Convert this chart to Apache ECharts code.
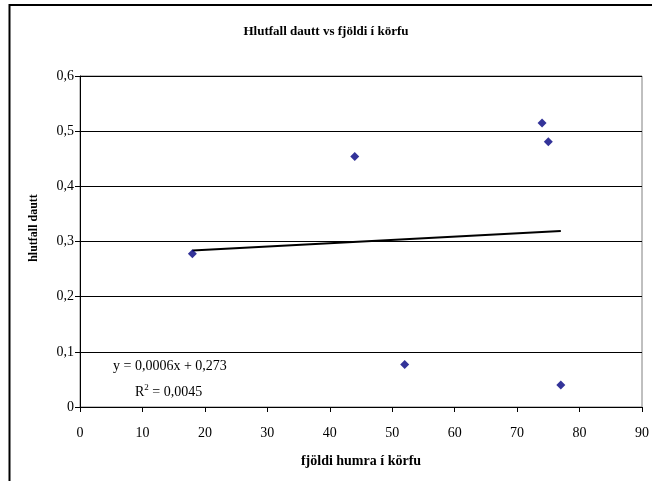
<!DOCTYPE html>
<html>
<head>
<meta charset="utf-8">
<script src="https://cdn.jsdelivr.net/npm/echarts@6/dist/echarts.min.js"></script>
<style>
html,body{margin:0;padding:0;background:#fff;}
#chart{width:652px;height:481px;}
</style>
</head>
<body>
<div id="chart"></div>
<script>
// Data
const fjoldi = [18, 44, 52, 74, 75, 77];
const hlutfall = [0.278, 0.454, 0.077, 0.515, 0.481, 0.040];
const trendSlope = 0.0006;
const trendIntercept = 0.273;
const trendRange = [18, 77];
const eqText = 'y = 0,0006x + 0,273';
const r2Label = 'R';
const r2Value = ' = 0,0045';
const titleText = 'Hlutfall dautt vs fjöldi í körfu';
const xName = 'fjöldi humra í körfu';
const yName = 'hlutfall dautt';

const points = fjoldi.map((x, i) => [x, hlutfall[i]]);
const trend = trendRange.map(x => [x, trendSlope * x + trendIntercept]);
const fmt = v => String(Math.round(v * 10) / 10).replace('.', ',');
const serif = '"Liberation Serif", "Times New Roman", serif';

const chart = echarts.init(document.getElementById('chart'), null, {renderer: 'canvas'});
chart.setOption({
  animation: false,
  backgroundColor: '#fff',
  title: {
    text: titleText,
    left: 'center',
    top: 20,
    textStyle: {fontFamily: serif, fontSize: 13, fontWeight: 'bold', color: '#000'}
  },
  grid: {left: 80, right: 9, top: 76, bottom: 74, show: true, borderColor: '#808080', borderWidth: 1},
  xAxis: {
    type: 'value', min: 0, max: 90, interval: 10,
    name: xName, nameLocation: 'middle', nameGap: 47,
    nameTextStyle: {fontFamily: serif, fontSize: 14, fontWeight: 'bold', color: '#000'},
    axisLine: {lineStyle: {color: '#000', width: 1}},
    axisTick: {show: true, inside: false, length: 5, lineStyle: {color: '#000'}},
    axisLabel: {fontFamily: serif, fontSize: 14, color: '#000', margin: 19},
    splitLine: {show: false}
  },
  yAxis: {
    type: 'value', min: 0, max: 0.6, interval: 0.1,
    axisLine: {show: true, lineStyle: {color: '#000', width: 1}},
    axisTick: {show: true, inside: false, length: 5, lineStyle: {color: '#000'}},
    axisLabel: {fontFamily: serif, fontSize: 14, color: '#000', margin: 6, formatter: fmt},
    splitLine: {show: true, lineStyle: {color: '#000', width: 1}}
  },
  series: [
    {
      type: 'line', data: trend, symbol: 'none', silent: true,
      lineStyle: {color: '#000', width: 2}, z: 2
    },
    {
      type: 'scatter', data: points, symbol: 'diamond', symbolSize: 9,
      itemStyle: {color: '#000080'}, z: 3
    }
  ],
  graphic: [
    {type: 'rect', shape: {x: 9.5, y: 5, width: 660, height: 500},
     style: {fill: 'none', stroke: '#000', lineWidth: 2}, silent: true},
    {type: 'text', x: 34, y: 228, rotation: Math.PI / 2,
     style: {text: yName, font: 'bold 12px ' + serif, fill: '#000', align: 'center', verticalAlign: 'middle'}},
    {type: 'text', x: 113, y: 366,
     style: {text: eqText, font: '14px ' + serif, fill: '#000', verticalAlign: 'middle'}},
    {type: 'text', x: 135, y: 392,
     style: {
       text: '{r|' + r2Label + '}{s|2}{r|' + r2Value + '}',
       verticalAlign: 'middle',
       rich: {
         r: {fontFamily: serif, fontSize: 14, fill: '#000', color: '#000'},
         s: {fontFamily: serif, fontSize: 9, color: '#000', padding: [0, 0, 9, 0]}
       }
     }}
  ]
});
</script>
</body>
</html>
